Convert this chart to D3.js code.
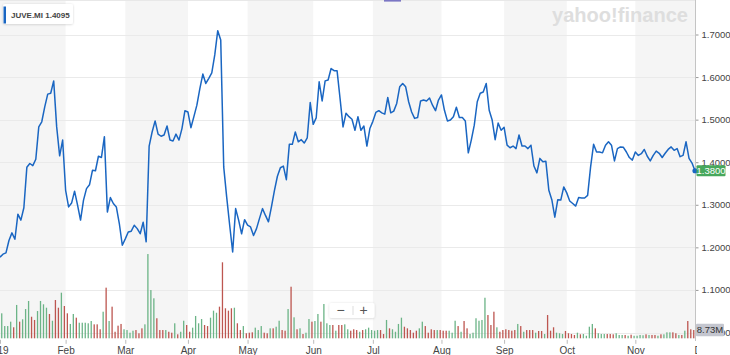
<!DOCTYPE html>
<html><head><meta charset="utf-8">
<script src="https://cdn.jsdelivr.net/npm/d3@7"></script>
<style>
html,body{margin:0;padding:0;background:#fff;}
svg{display:block;font-family:"Helvetica Neue",Arial,"Liberation Sans",sans-serif;}
</style></head>
<body><svg id="c" width="730" height="355"></svg>
<script>
// ---- data ----
const ticker = "JUVE.MI";
const legendValue = "1.4095";
const monthIndex = [0,22,42,63,83,105,125,148,169,190,213,234];
const monthLabels = ["2019","Feb","Mar","Apr","May","Jun","Jul","Aug","Sep","Oct","Nov","Dec"];
const priceTicks = [1.0,1.1,1.2,1.3,1.4,1.5,1.6,1.7];
const close = [
1.177,1.184,1.187,1.216,1.234,1.219,1.278,1.264,1.293,1.388,
1.397,1.392,1.407,1.483,1.495,1.530,1.560,1.562,1.591,1.483,
1.415,1.452,1.334,1.295,1.304,1.332,1.299,1.264,1.311,1.338,
1.347,1.381,1.380,1.414,1.411,1.460,1.283,1.317,1.303,1.295,
1.256,1.205,1.220,1.236,1.238,1.252,1.244,1.232,1.259,1.213,
1.438,1.471,1.497,1.466,1.461,1.464,1.485,1.452,1.450,1.466,
1.452,1.479,1.521,1.518,1.481,1.507,1.534,1.573,1.607,1.585,
1.597,1.610,1.652,1.709,1.687,1.389,1.318,1.252,1.189,1.291,
1.264,1.232,1.265,1.252,1.248,1.228,1.244,1.268,1.291,1.275,
1.260,1.295,1.333,1.367,1.387,1.391,1.359,1.442,1.442,1.471,
1.448,1.453,1.445,1.457,1.540,1.489,1.504,1.589,1.544,1.591,
1.593,1.620,1.615,1.615,1.550,1.483,1.515,1.507,1.501,1.475,
1.507,1.475,1.485,1.438,1.479,1.496,1.517,1.521,1.516,1.513,
1.552,1.516,1.520,1.538,1.577,1.585,1.577,1.542,1.518,1.503,
1.505,1.544,1.546,1.544,1.551,1.534,1.521,1.546,1.558,1.522,
1.497,1.499,1.507,1.529,1.505,1.505,1.497,1.422,1.452,1.487,
1.542,1.562,1.565,1.585,1.522,1.499,1.453,1.492,1.475,1.482,
1.440,1.434,1.438,1.432,1.464,1.438,1.438,1.432,1.440,1.391,
1.375,1.409,1.401,1.402,1.334,1.312,1.271,1.312,1.311,1.342,
1.328,1.309,1.303,1.297,1.317,1.316,1.316,1.322,1.389,1.442,
1.424,1.424,1.422,1.440,1.448,1.440,1.403,1.432,1.436,1.435,
1.424,1.411,1.405,1.424,1.416,1.420,1.430,1.414,1.403,1.416,
1.426,1.421,1.411,1.421,1.430,1.436,1.428,1.432,1.413,1.416,
1.448,1.409,1.398,1.380];
const lastPriceLabel = "1.3800";
// volume in millions
const volume = [
20,26.3,12.9,12.9,17.5,11.6,35.1,17.5,20.0,30.8,
39.3,22.7,19.3,28.7,39.3,35.8,32.2,25.6,18.5,40.3,
32.2,48.0,34.0,26.3,15.1,25.6,21.7,16.4,16.4,16.4,
15.8,18.2,14.7,14.7,9.5,28.0,53.3,18.2,33.3,6.9,
13.3,15.1,9.5,8.7,5.9,8.0,8.7,5.3,10.5,14.7,
88.7,50.8,42.1,21.1,8.7,8.7,8.7,6.9,5.9,15.8,
4.2,6.9,18.5,14.0,6.9,11.2,23.5,15.8,20.3,14.0,
12.9,21.7,29.1,26.9,33.3,80.0,31.6,29.1,31.6,32.2,
15.8,8.7,12.9,5.3,5.9,6.3,11.2,8.7,12.9,5.9,
5.3,10.5,10.5,12.2,18.5,8.7,8.0,30.8,54.3,22.1,
9.5,10.5,4.5,5.9,20.3,17.5,18.2,25.6,17.5,36.1,
15.8,14.0,14.0,8.0,14.0,14.0,14.7,9.5,8.0,9.5,
8.7,6.9,8.7,9.5,11.2,8.7,8.0,8.7,8.7,4.5,
19.3,10.5,9.5,6.9,15.1,21.7,12.2,10.5,8.7,5.9,
8.0,10.5,17.5,12.9,5.9,9.5,8.7,8.7,8.7,8.0,
8.0,8.0,5.9,18.5,12.9,6.9,18.2,10.5,4.5,5.9,
21.1,18.5,19.3,42.7,24.5,14.0,28.0,11.6,6.9,8.7,
9.5,8.7,8.0,8.7,15.1,12.9,6.9,8.7,8.7,8.7,
5.9,7.7,7.7,4.5,24.5,8.0,11.6,5.9,5.3,4.5,
7.7,5.3,4.5,3.5,5.9,4.2,4.5,2.7,12.2,15.1,
10.5,5.3,4.5,4.5,4.5,4.5,4.2,5.3,3.5,3.5,
3.5,2.7,3.8,2.7,2.7,3.5,3.2,4.2,3.5,3.5,
3.5,2.7,4.2,4.2,6.3,6.3,6.3,5.3,3.5,3.5,
8.0,18.2,9.5,8.73];
const lastVolumeLabel = "8.73M";
// g = up day, r = down day (volume bar colour)
const volumeDir = (
"gggggrgrgg"+"grrggggrgr"+"rgrrggrggg"+"ggrrrgrgrr"+"rrggggrrrg"+
"gggrrrgrrg"+"rggrrggggr"+"rgggrrrrrg"+"rrgrrrgggr"+"rgrggrrgrg"+
"rgrggrggrg"+"ggrgrrggrr"+"rgrgggggrr"+"grggggrrrr"+"rggrrrrgrr"+
"rgggrgrrgg"+"ggggrrrgrr"+"rrrrgrgrrr"+"grrgrrrggg"+"rrrrgrgggg"+
"rgggrrrggg"+"rgrggggrgr"+"rgrgggrrgr"+"grrr").split("");

// ---- layout ----
const svg = d3.select("#c");
const plotRight = 695.5, baseY = 338.3;
const x = d3.scaleLinear().domain([0, close.length-1]).range([0, 695]);
const y = d3.scaleLinear().domain([1.0, 1.7]).range([332.5, 34.5]);
const v = d3.scaleLinear().domain([0, 100]).range([baseY, baseY-95]);

const defs = svg.append("defs");
defs.append("clipPath").attr("id","plotClip").append("rect")
  .attr("x",0).attr("y",0).attr("width",plotRight).attr("height",341);
defs.append("clipPath").attr("id","axisClip").append("rect")
  .attr("x",0).attr("y",338).attr("width",697).attr("height",20);
const sh = defs.append("filter").attr("id","shadow").attr("x","-20%").attr("y","-40%").attr("width","140%").attr("height","180%");
sh.append("feDropShadow").attr("dx",0).attr("dy",0.5).attr("stdDeviation",1).attr("flood-color","#000").attr("flood-opacity",0.18);

const plot = svg.append("g").attr("clip-path","url(#plotClip)");

// month bands
for (let k = 0; k < monthIndex.length-1; k += 2) {
  const x0 = k === 0 ? 0 : x(monthIndex[k]);
  plot.append("rect").attr("x", x0).attr("y", 0)
    .attr("width", x(monthIndex[k+1]) - x0).attr("height", baseY)
    .attr("fill", "#f5f5f5");
}
// top line
svg.append("line").attr("x1",0).attr("x2",plotRight).attr("y1",0.5).attr("y2",0.5)
  .attr("stroke","#e8e8e8");

// gridlines
plot.selectAll("line.grid").data(priceTicks).join("line").attr("class","grid")
  .attr("x1",0).attr("x2",plotRight)
  .attr("y1",d=>Math.round(y(d))+0.5).attr("y2",d=>Math.round(y(d))+0.5)
  .attr("stroke","#eaeaea").attr("stroke-width",1);

// watermark
svg.append("text").attr("x",552).attr("y",22).attr("textLength",136)
  .attr("lengthAdjust","spacingAndGlyphs")
  .attr("font-size",20).attr("font-weight","bold").attr("fill","#dedede")
  .attr("font-family","Arial, 'Liberation Sans', sans-serif")
  .text("yahoo!finance");

// volume bars
plot.selectAll("rect.vol").data(volume).join("rect").attr("class","vol")
  .attr("x",(d,i)=>x(i)-1.9).attr("width",1.3)
  .attr("y",d=>v(d)).attr("height",d=>baseY - v(d))
  .attr("fill",(d,i)=>volumeDir[i]==="g" ? "#6cb487" : "#bd5650");

// price line
const line = d3.line().x((d,i)=>x(i)).y(d=>y(d));
plot.append("path").datum(close).attr("d",line)
  .attr("fill","none").attr("stroke","#1a66c2").attr("stroke-width",1.5)
  .attr("stroke-linejoin","round");

// right axis
const yAxis = d3.axisRight(y).tickValues(priceTicks).tickFormat(d3.format(".4f"))
  .tickSize(3).tickPadding(3);
const ya = svg.append("g").attr("transform",`translate(${plotRight},0)`).call(yAxis);
ya.select(".domain").remove();
ya.selectAll(".tick line").attr("stroke","#999");
ya.selectAll(".tick text").attr("fill","#444").attr("font-size",9.5)
  .attr("font-family","'Helvetica Neue',Arial,'Liberation Sans',sans-serif");
svg.append("line").attr("x1",plotRight).attr("x2",plotRight).attr("y1",0).attr("y2",341)
  .attr("stroke","#c4c4c4").attr("stroke-width",1);

// bottom axis
const xAxis = d3.axisBottom(x).tickValues(monthIndex)
  .tickFormat((d,i)=>monthLabels[i]).tickSize(4).tickPadding(3);
const xa = svg.append("g").attr("clip-path","url(#axisClip)")
  .append("g").attr("transform",`translate(0,${baseY+1.5})`).call(xAxis);
xa.select(".domain").remove();
xa.selectAll(".tick line").attr("stroke","#bbb");
xa.selectAll(".tick text").attr("fill","#444").attr("font-size",10)
  .attr("font-family","'Helvetica Neue',Arial,'Liberation Sans',sans-serif")
  .attr("dx",(d,i)=> i===0 ? -3 : (i===monthIndex.length-1 ? 5 : 0));

// end dot
const last = close.length-1;
svg.append("circle").attr("cx",x(last)).attr("cy",y(close[last])).attr("r",2.6)
  .attr("fill","#1a66c2");

// last price label
const py = y(close[last]);
svg.append("rect").attr("x",696.5).attr("y",py-5.5).attr("width",29).attr("height",11)
  .attr("rx",1).attr("fill","#47a85c");
svg.append("text").attr("x",711).attr("y",py+3.4).attr("text-anchor","middle")
  .attr("font-size",9.5).attr("fill","#fff").text(lastPriceLabel);

// last volume label
const vy = v(volume[last]);
svg.append("rect").attr("x",696).attr("y",vy-6.3).attr("width",28).attr("height",12.5)
  .attr("rx",1).attr("fill","#c4c6cf");
svg.append("text").attr("x",710).attr("y",vy+3.3).attr("text-anchor","middle")
  .attr("font-size",9.5).attr("fill","#333").text(lastVolumeLabel);

// legend
const lg = svg.append("g");
lg.append("rect").attr("x",3).attr("y",4).attr("width",70).attr("height",20)
  .attr("rx",2).attr("fill","#fff").attr("filter","url(#shadow)");
lg.append("rect").attr("x",3.5).attr("y",6.5).attr("width",2.5).attr("height",17)
  .attr("fill","#1a66c2");
lg.append("text").attr("x",11).attr("y",18).attr("font-size",8).attr("font-weight","bold")
  .attr("fill","#444").text(ticker + " " + legendValue);

// zoom control
const zc = svg.append("g");
zc.append("rect").attr("x",329.5).attr("y",303).attr("width",45).attr("height",15)
  .attr("rx",2).attr("fill","#fff").attr("filter","url(#shadow)");
zc.append("line").attr("x1",353).attr("x2",353).attr("y1",306).attr("y2",315)
  .attr("stroke","#ddd");
zc.append("text").attr("x",340.5).attr("y",315).attr("text-anchor","middle")
  .attr("font-size",14).attr("fill","#555").text("\u2212");
zc.append("text").attr("x",363.5).attr("y",315).attr("text-anchor","middle")
  .attr("font-size",14).attr("fill","#555").text("+");

// event marker at top
svg.append("rect").attr("x",384).attr("y",0).attr("width",17).attr("height",1.6)
  .attr("fill","#7b76c4");
</script></body></html>
